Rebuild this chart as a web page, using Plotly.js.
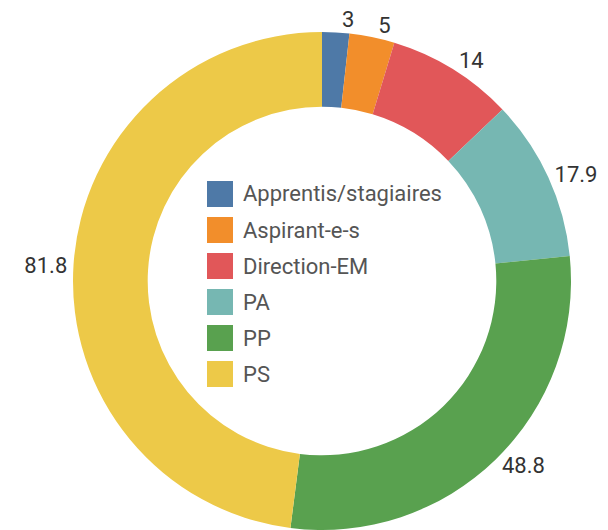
<!DOCTYPE html>
<html>
<head>
<meta charset="utf-8">
<script src="https://cdn.plot.ly/plotly-3.0.1.min.js"></script>
<style>html,body{margin:0;padding:0;background:#fff;}#chart{width:608px;height:530px;}</style>
</head>
<body>
<div id="chart"></div>
<script>
const categories = ["Apprentis/stagiaires", "Aspirant-e-s", "Direction-EM", "PA", "PP", "PS"];
const values = [3, 5, 14, 17.9, 48.8, 81.8];
const colors = ["#4e79a7", "#f28e2b", "#e15759", "#76b7b2", "#59a14f", "#edc948"];

const W = 608, H = 530;
const FONT = "Roboto, 'Noto Sans', sans-serif";
const NUM_COLOR = "#333333";
const LEG_COLOR = "#555555";

// custom legend placed in the hole
const shapes = [], annotations = [];
const legLeft = 207, legTop = 181, sq = 26, rowH = 36;
categories.forEach((c, i) => {
  const yc = legTop + sq / 2 + i * rowH;
  shapes.push({
    type: "rect", xref: "paper", yref: "paper",
    x0: legLeft / W, x1: (legLeft + sq) / W,
    y0: 1 - (yc - sq / 2) / H, y1: 1 - (yc + sq / 2) / H,
    fillcolor: colors[i], line: {width: 0}
  });
  annotations.push({
    xref: "paper", yref: "paper", x: (legLeft + sq + 8) / W, y: 1 - yc / H,
    xanchor: "left", yanchor: "middle", showarrow: false,
    text: c, font: {family: FONT, size: 22, color: LEG_COLOR}
  });
});

const domain = {x: [72 / W, 572 / W], y: [0, 1 - 32 / H]};

// label set split in two so plotly does not stack the two tiny top labels
const firstOnly = values.map((v, i) => i === 0 ? "outside" : "none");
const restOnly = values.map((v, i) => i === 0 ? "none" : "outside");

const common = {
  type: "pie",
  labels: categories,
  values: values,
  hole: 0.70,
  sort: false,
  direction: "clockwise",
  rotation: 0,
  textinfo: "value",
  outsidetextfont: {family: FONT, size: 22, color: NUM_COLOR},
  domain: domain,
  showlegend: false,
  hoverinfo: "label+value"
};

const labelTrace = Object.assign({}, common, {
  marker: {colors: values.map(() => "rgba(0,0,0,0)"), line: {width: 0}},
  textposition: firstOnly
});
const mainTrace = Object.assign({}, common, {
  marker: {colors: colors, line: {color: "#ffffff", width: 0}},
  textposition: restOnly
});

Plotly.newPlot("chart", [labelTrace, mainTrace], {
  width: W, height: H,
  margin: {l: 0, r: 0, t: 0, b: 0},
  paper_bgcolor: "#ffffff",
  showlegend: false,
  shapes: shapes,
  annotations: annotations,
  font: {family: FONT, color: NUM_COLOR}
}, {displayModeBar: false, staticPlot: true});
</script>
</body>
</html>
